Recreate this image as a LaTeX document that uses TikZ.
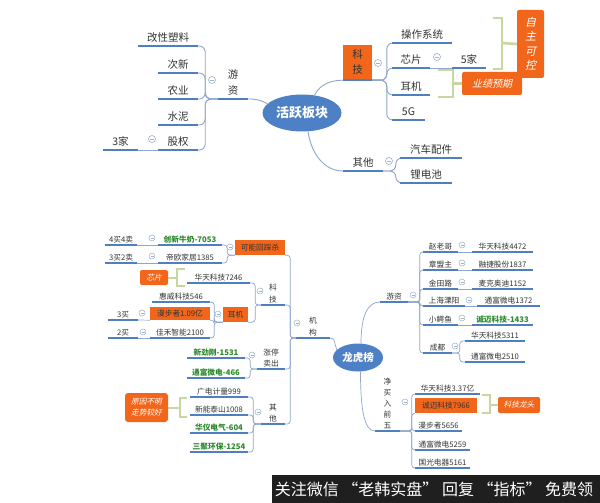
\documentclass[tikz,border=0pt]{standalone}
\usepackage{fontspec}
\setmainfont{Noto Sans CJK SC}
\newfontfamily\slfont[FakeSlant=0.22]{Noto Sans CJK SC}
\usetikzlibrary{shapes.geometric}
\definecolor{ulb}{HTML}{4F7FC0}
\definecolor{cnc}{HTML}{8EA7CA}
\definecolor{elb}{HTML}{4E80C5}
\definecolor{org}{HTML}{F2661B}
\definecolor{brg}{HTML}{C6D89F}
\definecolor{gtx}{HTML}{2B8A2B}
\definecolor{mng}{HTML}{9DB1CB}
\definecolor{dtx}{HTML}{333333}
\begin{document}
\begin{tikzpicture}[x=1pt,y=-1pt,
  every node/.style={text=dtx},
  lt/.style={anchor=south, inner xsep=0pt, inner ysep=4pt, text depth=0pt, font=\fontsize{10.5}{16}\selectfont, minimum width=#1},
  lb/.style={anchor=south, inner xsep=0pt, inner ysep=2.5pt, text depth=0pt, font=\fontsize{7.7}{11}\selectfont, minimum width=#1},
  gn/.style={text=gtx, font=\fontsize{7.7}{11}\selectfont\bfseries},
  ob/.style 2 args={fill=org, inner sep=0pt, minimum width=#1, minimum height=#2, font=\fontsize{7.7}{11}\selectfont},
  sm/.style={text=white, font=\fontsize{7.7}{11}\slfont, rounded corners=2pt, align=center},
  el/.style={ellipse, fill=elb, text=white, inner sep=0pt},
  ulT/.style={draw=ulb, line width=1.7pt},
  ulB/.style={draw=ulb, line width=1.2pt},
  cn/.style={draw=cnc, line width=0.9pt, rounded corners=6pt},
  cnb/.style={draw=cnc, line width=0.7pt, rounded corners=3pt},
  brk/.style={draw=brg, line width=2.6pt},
  brb/.style={draw=brg, line width=2pt},
  mT/.style={circle, draw=mng, fill=white, line width=0.6pt, inner sep=0pt, minimum size=7pt,
    path picture={\draw[mng, line width=0.6pt] ([xshift=-1.8pt]path picture bounding box.center) -- ([xshift=1.8pt]path picture bounding box.center);}},
  mB/.style={circle, draw=mng, fill=white, line width=0.5pt, inner sep=0pt, minimum size=6pt,
    path picture={\draw[mng, line width=0.5pt] ([xshift=-1.5pt]path picture bounding box.center) -- ([xshift=1.5pt]path picture bounding box.center);}}
]
\fill[white] (0,0) rectangle (600,503);
\useasboundingbox (0,0) rectangle (600,503);

% ================= TOP MAP =================
\node[el, minimum width=79pt, minimum height=37pt, font=\fontsize{13}{15}\selectfont\bfseries] (c) at (302,113) {活跃板块};

% 游资 branch
\node[lt=30, align=center] (yz) at (233,99) {游\\资};
\node[lt=60] (gsl) at (168,46) {改性塑料};
\node[lt=40] (cx) at (178,73) {次新};
\node[lt=40] (ny) at (178,99) {农业};
\node[lt=40] (sn) at (178,125) {水泥};
\node[lt=40] (gq) at (178,150) {股权};
\node[lt=35] (j3) at (120.5,150) {3家};

% 科技 branch
\node[ob={29}{35}, font=\fontsize{10.5}{15}\selectfont, align=center] (kj) at (357.5,62.5) {科\\技};
\node[lt=60] (czxt) at (422,43) {操作系统};
\node[lt=38] (xp) at (411,68) {芯片};
\node[lt=33] (j5) at (469,68) {5家};
\node[lt=38] (ej) at (411,95) {耳机};
\node[lt=33] (g5) at (408.5,120) {5G};
\node[ob={60}{23}, sm, font=\fontsize{10}{12}\slfont] (yjyq) at (492,83.5) {业绩预期};
\node[ob={27}{68}, sm, font=\fontsize{11}{14.5}\slfont] (zzkk) at (530.5,44) {自\\主\\可\\控};

% 其他 branch
\node[lt=40] (qt) at (363,171) {其他};
\node[lt=62] (qcpj) at (431,158) {汽车配件};
\node[lt=52] (ldc) at (426,183) {锂电池};

% connectors top
\draw[cn] (c.165) .. controls +(-8,-4) and +(8,0) .. (yz.south east);
\draw[cn] (c.55) .. controls +(6,-12) and +(-10,0) .. (kj.south west);
\draw[cn] (c.-72) .. controls +(4,26) and +(-16,0) .. (qt.south west);
\foreach \ch in {gsl,cx,ny,sn,gq}
  \draw[cn] (yz.south west) -| ([xshift=7pt]\ch.south east) -- (\ch.south east);
\draw[cn] (gq.south west) -- (j3.south east);
\foreach \ch in {czxt,xp,ej,g5}
  \draw[cn] (kj.south east) -| ([xshift=-5pt]\ch.south west) -- (\ch.south west);
\draw[cn] (xp.south east) -- (j5.south west);
\foreach \ch in {qcpj,ldc}
  \draw[cn] (qt.south east) -| ([xshift=-4pt]\ch.south west) -- (\ch.south west);

\foreach \n in {yz,gsl,cx,ny,sn,gq,j3,kj,czxt,xp,j5,ej,g5,qt,qcpj,ldc}
  \draw[ulT] (\n.south west) -- (\n.south east);

% brackets top
\draw[brk] (438,70) -- (453,70) -- (453,97) -- (438,97);
\draw[brk] (453,83.5) -- (yjyq.west);
\draw[brk] (493,18) -- (502,18) -- (502,69) -- (493,69);
\draw[brk] (502,43) -- (zzkk.west);

\node[mT] (o1) at (212,80) {};
\node[mT] (o2) at (152,139) {};
\node[mT] (o3) at (378,63) {};
\node[mT] (o4) at (437,57) {};
\node[mT] (o5) at (389,161) {};

% ================= BOTTOM MAP =================
\node[el, minimum width=50pt, minimum height=28pt, font=\fontsize{10.5}{12}\selectfont\bfseries] (c2) at (358,357.5) {龙虎榜};

% 机构
\node[lb=34, align=center, font=\fontsize{7.7}{12}\selectfont] (jg) at (313,338) {机\\构};
\node[ob={50}{15}] (knhc) at (260,247.5) {可能回踩杀};
\node[lb=24, align=center, font=\fontsize{7.7}{12}\selectfont] (kj2) at (273,305) {科\\技};
\node[lb=28, align=center, font=\fontsize{7.7}{10.5}\selectfont] (ztmc) at (271,369) {涨停\\卖出};
\node[lb=24, align=center, font=\fontsize{7.7}{11}\selectfont] (qt2) at (273,424) {其\\他};

% 可能回踩杀 children
\node[lb=64, gn] (a7053) at (190,245) {创新牛奶-7053};
\node[lb=64] (a1385) at (190,263) {帝欧家居1385};
\node[lb=32] (m44) at (121,245) {4买4卖};
\node[lb=32] (m32) at (121,263) {3买2卖};

% 科技 children
\node[lb=63] (ht7246) at (218.5,283) {华天科技7246};
\node[ob={25}{15}] (ej2) at (235.5,314.5) {耳机};
\node[ob={28}{15}, sm] (xp2) at (154,277.5) {芯片};
\node[lb=58] (hw546) at (181,302) {惠威科技546};
\node[ob={60}{13}] (mbz) at (180,313.5) {漫步者1.09亿};
\node[lb=60] (jh2100) at (180,338) {佳禾智能2100};
\node[lb=30] (j3m) at (123,320) {3买};
\node[lb=30] (j2m) at (123,338) {2买};

% 涨停卖出 children
\node[lb=58, gn] (x1531) at (216,358) {新劲刚-1531};
\node[lb=58, gn] (tf466) at (216,378) {通富微电-466};

% 其他 children
\node[lb=58] (gd999) at (219,397) {广电计量999};
\node[lb=58] (xn1008) at (219,415) {新能泰山1008};
\node[lb=58, gn] (hy604) at (219,433) {华仪电气-604};
\node[lb=58, gn] (sj1254) at (219,452) {三聚环保-1254};
\node[ob={43}{29}, sm, rounded corners=3pt] (yybm) at (146.5,407.5) {原因不明\\走势较好};

% 游资 (right)
\node[lb=28] (yz2) at (394,302) {游资};
\node[lb=35] (zlg) at (440.5,252) {赵老哥};
\node[lb=35] (zmz) at (440.5,270) {章盟主};
\node[lb=35] (jtl) at (440.5,289) {金田路};
\node[lb=42] (shlx) at (444,306) {上海溧阳};
\node[lb=35] (xey) at (440.5,325) {小鳄鱼};
\node[lb=29] (cd) at (437.5,353) {成都};
\node[lb=61] (ht4472) at (502.5,252) {华天科技4472};
\node[lb=61] (rj1837) at (502.5,270) {融捷股份1837};
\node[lb=61] (mk1152) at (502.5,289) {麦克奥迪1152};
\node[lb=63] (tf1372) at (508.5,306) {通富微电1372};
\node[lb=61, gn] (cm1433) at (502.5,325) {诚迈科技-1433};
\node[lb=60] (ht5311) at (495,341) {华天科技5311};
\node[lb=60] (tf2510) at (495,362) {通富微电2510};

% 净买入前五
\node[lb=25, align=center, font=\fontsize{7.7}{11}\selectfont] (jmr) at (387.5,431) {净\\买\\入\\前\\五};
\node[lb=65] (ht337) at (447.5,394) {华天科技3.37亿};
\node[ob={62}{15}] (cm7966) at (446,405.5) {诚迈科技7966};
\node[lb=47] (mbz5656) at (438.5,431) {漫步者5656};
\node[lb=55] (tf5259) at (442.5,450) {通富微电5259};
\node[lb=55] (gg5161) at (442.5,468) {国光电器5161};
\node[ob={42}{16}, sm] (kjlt) at (519,405) {科技龙头};

% connectors bottom
\draw[cnb] (c2.160) .. controls +(-3,-6) and +(6,0) .. (jg.south east);
\draw[cnb] (c2.78) .. controls +(0,-28) and +(-12,0) .. (yz2.south west);
\draw[cnb] (c2.-80) .. controls +(0,40) and +(-10,0) .. (jmr.south west);
\foreach \ch in {knhc,kj2,ztmc,qt2}
  \draw[cnb] (jg.south west) -| ([xshift=5pt]\ch.south east) -- (\ch.south east);
\foreach \ch in {a7053,a1385}
  \draw[cnb] (knhc.south west) -| ([xshift=5pt]\ch.south east) -- (\ch.south east);
\draw[cnb] (a7053.south west) -- (m44.south east);
\draw[cnb] (a1385.south west) -- (m32.south east);
\draw[cnb] (kj2.south west) -| ([xshift=5pt]ht7246.south east) -- (ht7246.south east);
\draw[cnb] (kj2.south west) -| ([xshift=7pt]ej2.south east) -- (ej2.south east);
\foreach \ch in {hw546,mbz,jh2100}
  \draw[cnb] (ej2.south west) -| ([xshift=4pt]\ch.south east) -- (\ch.south east);
\draw[cnb] (mbz.south west) -- (j3m.south east);
\draw[cnb] (jh2100.south west) -- (j2m.south east);
\foreach \ch in {x1531,tf466}
  \draw[cnb] (ztmc.south west) -| ([xshift=5pt]\ch.south east) -- (\ch.south east);
\foreach \ch in {gd999,xn1008,hy604,sj1254}
  \draw[cnb] (qt2.south west) -| ([xshift=5pt]\ch.south east) -- (\ch.south east);
\foreach \ch in {zlg,zmz,jtl,shlx,xey,cd}
  \draw[cnb] (yz2.south east) -| ([xshift=-3pt]\ch.south west) -- (\ch.south west);
\draw[cnb] (zlg.south east) -- (ht4472.south west);
\draw[cnb] (zmz.south east) -- (rj1837.south west);
\draw[cnb] (jtl.south east) -- (mk1152.south west);
\draw[cnb] (shlx.south east) -- (tf1372.south west);
\draw[cnb] (xey.south east) -- (cm1433.south west);
\foreach \ch in {ht5311,tf2510}
  \draw[cnb] (cd.south east) -| ([xshift=-5pt]\ch.south west) -- (\ch.south west);
\foreach \ch in {ht337,cm7966,mbz5656,tf5259,gg5161}
  \draw[cnb] (jmr.south east) -| ([xshift=-3pt]\ch.south west) -- (\ch.south west);

\foreach \n in {jg,kj2,ztmc,qt2,a7053,a1385,m44,m32,ht7246,hw546,jh2100,j3m,j2m,x1531,tf466,gd999,xn1008,hy604,sj1254,yz2,zlg,zmz,jtl,shlx,xey,cd,ht4472,rj1837,mk1152,tf1372,cm1433,ht5311,tf2510,jmr,ht337,mbz5656,tf5259,gg5161}
  \draw[ulB] (\n.south west) -- (\n.south east);

% brackets bottom
\draw[brb] (185,269) -- (177,269) -- (177,286) -- (185,286);
\draw[brb] (177,277.5) -- (xp2.east);
\draw[brb] (187,398) -- (180,398) -- (180,417) -- (187,417);
\draw[brb] (180,407.5) -- (yybm.east);
\draw[brb] (482,395) -- (490,395) -- (490,413) -- (482,413);
\draw[brb] (490,405) -- (kjlt.west);

\node[mB] (p1) at (297,323) {};
\node[mB] (p2) at (230,247) {};
\node[mB] (p3) at (152,238) {};
\node[mB] (p4) at (152,256) {};
\node[mB] (p5) at (260,291) {};
\node[mB] (p6) at (218,314) {};
\node[mB] (p7) at (142,313) {};
\node[mB] (p8) at (143,332) {};
\node[mB] (p9) at (252,355) {};
\node[mB] (p10) at (258,412) {};
\node[mB] (p11) at (413,295) {};
\node[mB] (p12) at (462,245) {};
\node[mB] (p13) at (462,263) {};
\node[mB] (p14) at (462,282) {};
\node[mB] (p15) at (469,300) {};
\node[mB] (p16) at (462,318) {};
\node[mB] (p17) at (455,346) {};
\node[mB] (p18) at (405,402) {};

% bottom bar
\fill[black!88] (272,475) rectangle (600,503);
\node[text=white, font=\fontsize{16}{18}\selectfont] (bar) at (434,489) {关注微信 “老韩实盘” 回复 “指标” 免费领};
\end{tikzpicture}
\end{document}
